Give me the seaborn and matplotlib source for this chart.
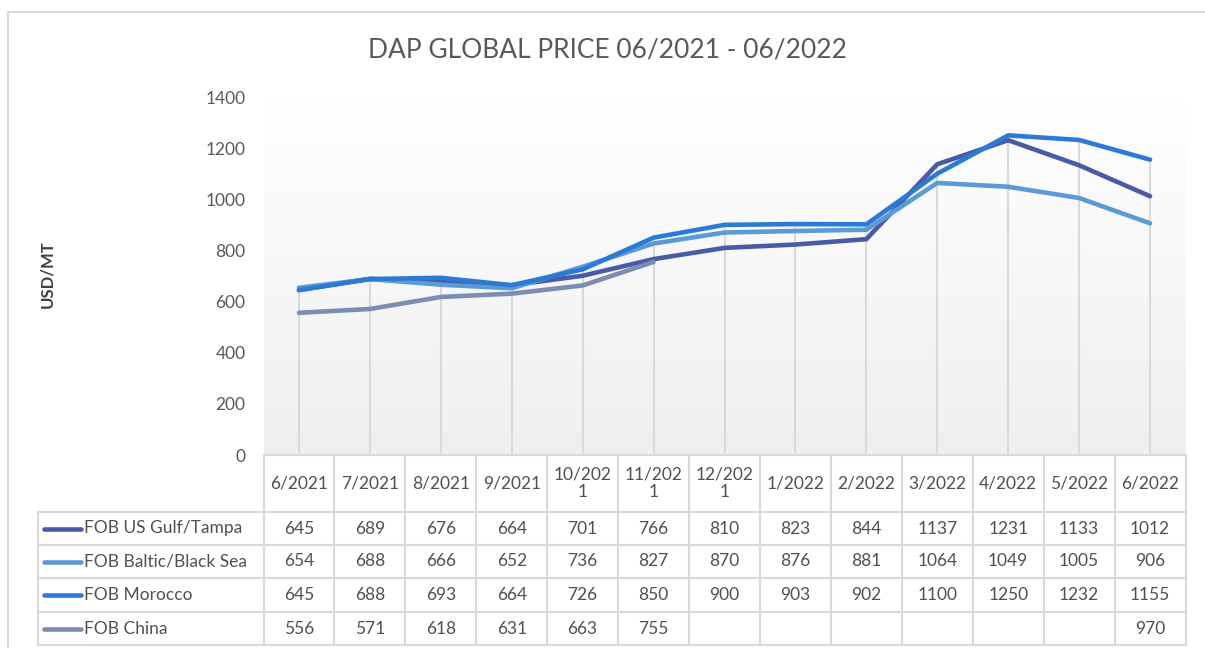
import numpy as np
import pandas as pd
import matplotlib.pyplot as plt
import seaborn as sns
from matplotlib.colors import LinearSegmentedColormap

# ---- data ----
months = ["6/2021", "7/2021", "8/2021", "9/2021", "10/2021", "11/2021", "12/2021",
          "1/2022", "2/2022", "3/2022", "4/2022", "5/2022", "6/2022"]
# header labels as they wrap in the excel data table
header_labels = ["6/2021", "7/2021", "8/2021", "9/2021", "10/202\n1", "11/202\n1", "12/202\n1",
                 "1/2022", "2/2022", "3/2022", "4/2022", "5/2022", "6/2022"]
series_names = ["FOB US Gulf/Tampa", "FOB Baltic/Black Sea", "FOB Morocco", "FOB China"]
us_gulf = [645, 689, 676, 664, 701, 766, 810, 823, 844, 1137, 1231, 1133, 1012]
baltic = [654, 688, 666, 652, 736, 827, 870, 876, 881, 1064, 1049, 1005, 906]
morocco = [645, 688, 693, 664, 726, 850, 900, 903, 902, 1100, 1250, 1232, 1155]
china = [556, 571, 618, 631, 663, 755, None, None, None, None, None, None, 970]
colors = ["#4a5aa6", "#5b9bd5", "#2b7bd6", "#7b8db3"]

all_series = [us_gulf, baltic, morocco, china]

rows = []
for name, vals in zip(series_names, all_series):
    seg = 0
    for i, v in enumerate(vals):
        if v is None:
            seg += 1
            continue
        rows.append({"idx": i, "value": v, "series": name, "unit": f"{name}_{seg}"})
df = pd.DataFrame(rows)

sns.set_style("white")
plt.rcParams['font.family'] = ['Lato', 'DejaVu Sans']

W, H = 1205, 648
fig = plt.figure(figsize=(W / 100, H / 100), dpi=100)

# plot area in pixel positions
x0, x1 = 263.5, 1185.5
y_top, y_zero = 97, 455
ax = fig.add_axes([x0 / W, 1 - y_zero / H, (x1 - x0) / W, (y_zero - y_top) / H])

# light vertical gradient like the excel plot area fill
grad = np.linspace(0, 1, 256).reshape(-1, 1)
cmap = LinearSegmentedColormap.from_list("bg", ["#ffffff", "#efefef"])
ax.imshow(grad, extent=[-0.5, 12.5, 0, 1400], origin="upper", cmap=cmap,
          aspect="auto", zorder=0)

# drop lines from the highest value at each month
tops = np.nanmax(np.array(all_series, dtype=float), axis=0)
ax.vlines(range(len(months)), 0, tops, color="#d9d9d9", lw=1.5, zorder=1)

sns.lineplot(data=df, x="idx", y="value", hue="series", units="unit", estimator=None,
             hue_order=series_names, palette=colors, lw=3.3, legend=False,
             sort=False, ax=ax, solid_capstyle="round", zorder=3)

ax.set_xlim(-0.5, 12.5)
ax.set_ylim(0, 1400)
ax.set_xticks([])
ax.set_yticks(range(0, 1401, 200))
ax.tick_params(axis="y", length=0, pad=13, labelsize=12.5, labelcolor="#595959")
ax.set_xlabel("")
ax.set_ylabel("")
for sp in ax.spines.values():
    sp.set_visible(False)

fig.text(608 / W, 1 - 50 / H, "DAP GLOBAL PRICE 06/2021 - 06/2022", ha="center",
         va="center", fontsize=19, color="#595959")
fig.text(47 / W, 1 - 274 / H, "USD/MT", rotation=90, ha="center", va="center",
         fontsize=12, fontweight="bold", color="#404040")

# ---- data table under the chart ----
tab = fig.add_axes([0, 0, 1, 1], zorder=5)
tab.set_xlim(0, W)
tab.set_ylim(H, 0)
tab.axis("off")
tab.patch.set_alpha(0)

grid_c = "#d9d9d9"
cw = (x1 - x0) / len(months)
leg_left = 38
row_lines = [512, 545, 578, 612, 645]

# chart border
tab.plot([8, 8], [12, H], color=grid_c, lw=1.5)
tab.plot([8, W], [12, 12], color=grid_c, lw=1.5)

tab.plot([x0, x1], [y_zero, y_zero], color=grid_c, lw=1.5)
for yl in row_lines:
    tab.plot([leg_left, x1], [yl, yl], color=grid_c, lw=1.5)
for k in range(len(months) + 1):
    xk = x0 + k * cw
    tab.plot([xk, xk], [y_zero, row_lines[-1]], color=grid_c, lw=1.5)
tab.plot([leg_left, leg_left], [row_lines[0], row_lines[-1]], color=grid_c, lw=1.5)

txt_c = "#505050"
for k, lab in enumerate(header_labels):
    tab.text(x0 + (k + 0.5) * cw, (y_zero + row_lines[0]) / 2, lab, ha="center",
             va="center", fontsize=12.5, color=txt_c, linespacing=1.15)

for r, (name, vals, col) in enumerate(zip(series_names, all_series, colors)):
    ym = (row_lines[r] + row_lines[r + 1]) / 2
    tab.plot([44, 81], [ym, ym], color=col, lw=3.3, solid_capstyle="round")
    tab.text(84, ym, name, ha="left", va="center", fontsize=12.5, color=txt_c)
    for k, v in enumerate(vals):
        if v is None:
            continue
        tab.text(x0 + (k + 0.5) * cw, ym, str(v), ha="center", va="center",
                 fontsize=12.5, color=txt_c)

fig.savefig("out.png", dpi=100)
plt.close(fig)
